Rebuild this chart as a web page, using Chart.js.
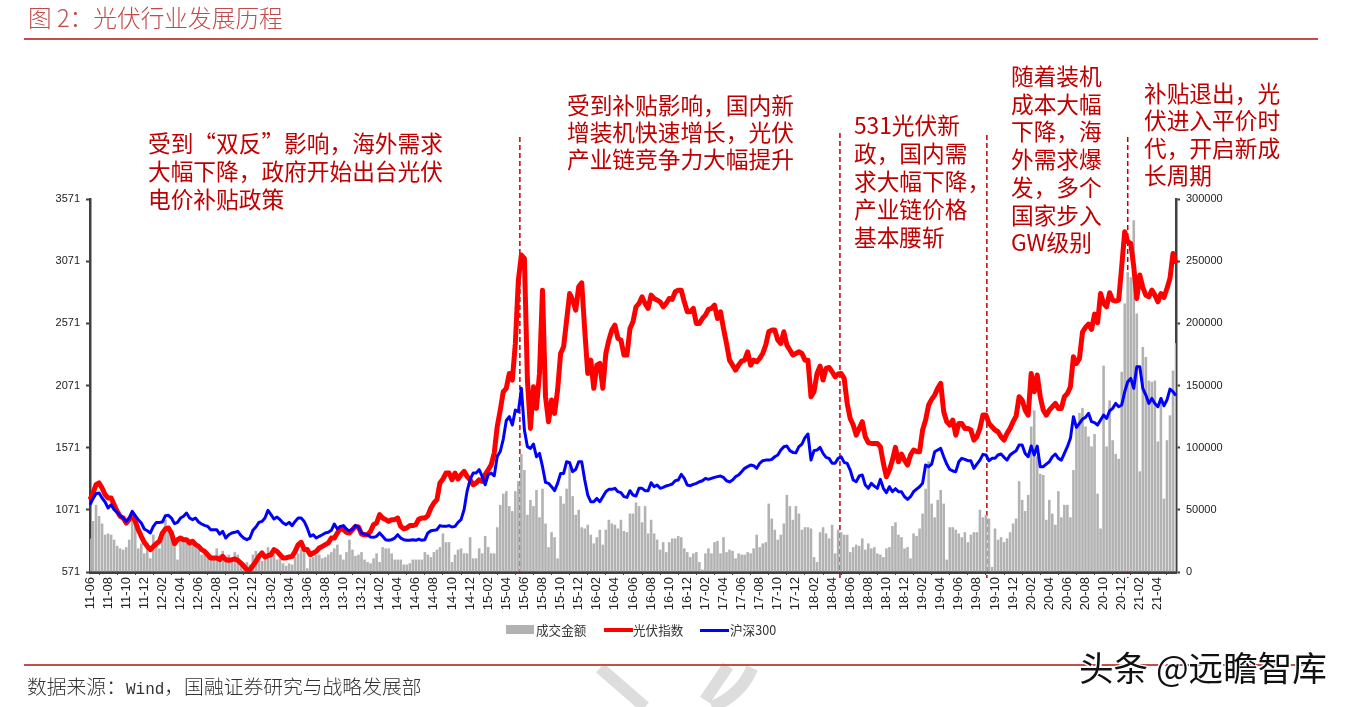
<!DOCTYPE html>
<html lang="zh">
<head>
<meta charset="utf-8">
<title>光伏行业发展历程</title>
<script src="https://cdn.jsdelivr.net/npm/chart.js@4/dist/chart.umd.min.js"></script>
<style>
  html, body { margin: 0; padding: 0; background: #fff; }
  body { position: relative; width: 1347px; height: 707px; overflow: hidden;
         font-family: "Noto Sans CJK SC", "Liberation Sans", sans-serif; }
  canvas { position: absolute; left: 0; top: 0; }
  .rule { position: absolute; left: 24px; width: 1294px; height: 2px; background: #C0504D; }
  .title { position: absolute; left: 28px; top: -1px; font-size: 23.7px; line-height: 36px; color: #C24A4A; font-weight: 300; white-space: pre; }
  .source { position: absolute; left: 27px; top: 672px; font-size: 19.8px; line-height: 28px; color: #333; font-weight: 300; white-space: pre; }
  .source span { font-family: "Liberation Mono", monospace; font-size: 16px; }
  .note { position: absolute; color: #C00000; font-size: 22.7px; white-space: pre; }
  .legend { position: absolute; left: 0; top: 621px; width: 1347px; height: 18px; font-size: 12.6px; line-height: 18px; color: #333; }
  .legend i { position: absolute; display: block; }
  .legend span { position: absolute; top: 0; }
  .mark { position: absolute; left: 1079px; top: 645px; font-size: 34.6px; line-height: 42px; color: #111; white-space: pre;
          text-shadow: 2px 2px 0 #fff, -1px -1px 0 #fff, 1px -1px 0 #fff, -1px 1px 0 #fff; }
  .seal { position: absolute; left: 0; top: 0; }
</style>
</head>
<body>
<svg class="seal" width="1347" height="707">
  <path d="M600 668 L645 707 M752 668 Q742 694 712 707 M728 666 L705 700" stroke="#DDDDDD" stroke-width="12" fill="none"/>
</svg>
<canvas id="chart" width="1347" height="707"></canvas>
<div class="rule" style="top:38px"></div>
<div class="rule" style="top:664px"></div>
<div class="title">图 2：光伏行业发展历程</div>
<div class="note" style="left:148px;top:129px;line-height:28px">受到“双反”影响，海外需求
大幅下降，政府开始出台光伏
电价补贴政策</div>
<div class="note" style="left:567px;top:91px;line-height:27.2px">受到补贴影响，国内新
增装机快速增长，光伏
产业链竞争力大幅提升</div>
<div class="note" style="left:854px;top:111px;line-height:28px">531光伏新
政，国内需
求大幅下降，
产业链价格
基本腰斩</div>
<div class="note" style="left:1011px;top:62px;line-height:27.7px">随着装机
成本大幅
下降，海
外需求爆
发，多个
国家步入
GW级别</div>
<div class="note" style="left:1144px;top:79px;line-height:27.4px">补贴退出，光
伏进入平价时
代，开启新成
长周期</div>
<div class="legend">
  <i style="left:506px;top:4px;width:28px;height:9px;background:#B2B2B2"></i><span style="left:536px">成交金额</span>
  <i style="left:604px;top:7px;width:29px;height:4px;background:#FF0000"></i><span style="left:633px">光伏指数</span>
  <i style="left:700px;top:8px;width:29px;height:3px;background:#0000FF"></i><span style="left:730px">沪深300</span>
</div>
<div class="source">数据来源：<span>Wind</span>，国融证券研究与战略发展部</div>
<div class="mark">头条 @远瞻智库</div>

<script>
// tick labels, one every 6 data points
const tickLabels = [
  '11-06','11-08','11-10','11-12','12-02','12-04','12-06','12-08','12-10','12-12',
  '13-02','13-04','13-06','13-08','13-10','13-12','14-02','14-04','14-06','14-08',
  '14-10','14-12','15-02','15-04','15-06','15-08','15-10','15-12','16-02','16-04',
  '16-06','16-08','16-10','16-12','17-02','17-04','17-06','17-08','17-10','17-12',
  '18-02','18-04','18-06','18-08','18-10','18-12','19-02','19-04','19-06','19-08',
  '19-10','19-12','20-02','20-04','20-06','20-08','20-10','20-12','21-02','21-04',
];

const leftTicks = [571, 1071, 1571, 2071, 2571, 3071, 3571];

// 光伏指数 (left axis)
const pvIndex = [
  1153,1206,1273,1287,1246,1193,1166,1166,1112,1059,1019,1005,965,992,1032,978,911,858,810,777,
  751,777,799,818,885,917,925,885,799,831,844,831,831,804,818,791,777,751,737,710,
  684,684,684,670,697,670,665,670,676,665,643,617,590,590,622,657,697,724,692,702,
  710,751,737,710,684,684,692,697,737,791,810,751,751,710,724,737,764,777,791,804,
  844,844,885,925,911,890,885,911,938,933,876,871,871,898,952,965,1032,1005,992,978,
  992,992,1005,938,919,925,944,944,952,997,1005,1005,1024,1086,1126,1153,1287,1319,1367,1367,
  1313,1367,1319,1354,1380,1340,1313,1273,1287,1313,1300,1354,1394,1434,1528,1742,1873,2021,2048,2168,
  2115,2409,2919,3120,3093,2115,1726,2061,1887,2168,2838,1981,1780,1954,1847,2034,2329,2383,2597,2811,
  2758,2677,2865,2897,2517,2168,2275,2048,2235,2249,2048,2329,2436,2517,2557,2450,2436,2316,2316,2530,
  2584,2704,2731,2785,2731,2691,2798,2771,2758,2744,2704,2731,2771,2763,2825,2838,2838,2744,2664,2664,
  2691,2570,2570,2610,2637,2683,2691,2718,2610,2664,2530,2409,2275,2235,2195,2235,2267,2275,2342,2235,
  2275,2262,2289,2329,2396,2503,2517,2517,2436,2409,2503,2396,2356,2316,2329,2342,2329,2275,2275,1981,
  2021,2168,2227,2115,2208,2216,2182,2141,2163,2168,2128,1927,1806,1753,1672,1726,1780,1659,1611,1605,
  1605,1605,1579,1445,1337,1391,1471,1573,1458,1520,1471,1431,1512,1552,1541,1538,1713,1793,1914,1959,
  1994,2048,2088,1860,1780,1753,1793,1672,1766,1766,1726,1726,1713,1632,1659,1726,1833,1833,1766,1739,
  1713,1699,1659,1632,1686,1726,1780,1825,1981,1954,1873,1833,2168,2021,2155,1981,1873,1833,1873,1900,
  1927,1887,1887,1981,2007,2061,2302,2249,2289,2500,2538,2565,2522,2645,2576,2811,2731,2704,2817,2758,
  2750,2758,3026,3307,3227,3213,3026,2771,2959,2860,2798,2784,2838,2798,2744,2811,2779,2851,2932,3133,
  3053,
];

// 沪深300 (left axis)
const hs300 = [
  1112,1161,1201,1206,1166,1134,1086,1112,1072,1051,1024,1005,978,1005,1059,1024,992,965,917,903,
  885,938,970,970,973,1024,1027,1005,960,970,1005,1019,1045,1005,992,1005,973,957,946,938,
  911,911,911,876,898,844,871,885,890,898,866,844,831,844,906,933,970,978,1005,1067,
  1032,997,1013,992,965,952,970,944,978,1005,1005,978,925,858,871,844,858,871,885,890,
  906,957,917,938,944,917,901,917,944,933,885,876,871,852,850,858,885,858,831,826,
  831,844,871,844,831,826,826,831,826,836,826,831,885,903,906,911,944,938,938,944,
  933,938,970,992,1072,1220,1313,1367,1367,1394,1340,1273,1354,1367,1345,1501,1540,1640,1790,1820,
  1753,1873,1860,2048,1713,1579,1565,1600,1498,1525,1418,1292,1284,1257,1225,1284,1364,1364,1458,1450,
  1378,1396,1458,1458,1311,1190,1136,1136,1163,1136,1177,1217,1236,1236,1244,1217,1209,1177,1171,1225,
  1190,1182,1244,1244,1225,1225,1289,1257,1270,1244,1252,1263,1270,1279,1305,1311,1356,1324,1270,1265,
  1276,1284,1297,1305,1324,1316,1324,1332,1338,1343,1332,1305,1295,1311,1338,1351,1378,1405,1418,1431,
  1426,1405,1445,1466,1471,1471,1477,1498,1512,1552,1579,1584,1547,1533,1530,1579,1600,1651,1681,1471,
  1547,1552,1573,1525,1493,1485,1445,1445,1485,1498,1453,1445,1391,1311,1297,1343,1351,1270,1244,1284,
  1262,1244,1316,1244,1209,1257,1217,1241,1217,1217,1177,1155,1177,1217,1238,1257,1284,1431,1418,1439,
  1538,1552,1565,1498,1439,1396,1383,1378,1458,1485,1477,1466,1466,1404,1439,1471,1517,1512,1466,1485,
  1485,1512,1520,1493,1471,1512,1530,1546,1592,1592,1525,1498,1584,1512,1584,1418,1418,1439,1458,1498,
  1520,1485,1471,1525,1579,1646,1820,1734,1766,1801,1815,1847,1780,1772,1753,1793,1833,1806,1868,1887,
  1927,1900,1914,2021,2101,2128,2048,2222,2222,2048,1994,1927,1967,1927,1900,1967,1908,1954,2042,2021,
  1989,
];

// 成交金额 (right axis)
const turnover = [
  27000,41000,54000,45000,39000,30000,31000,30000,26000,21000,19000,18000,20000,26000,41000,38000,19000,23000,15000,24000,
  11000,30000,25000,19000,28000,42000,34000,31000,24000,10000,26000,28000,24000,26000,24000,20000,19000,14000,18000,14000,
  13000,11000,19000,14000,17000,12000,14000,11000,16000,14000,8000,7000,8000,6000,14000,17000,15000,9000,12000,20000,
  17000,14000,10000,11000,7000,5000,7000,6000,12000,15000,18000,16000,3000,11000,12000,14000,14000,11000,12000,14000,
  16000,19000,22000,14000,10000,16000,26000,18000,13000,14000,16000,10000,8000,7000,11000,15000,8000,20000,19000,19000,
  15000,10000,10000,10000,6000,6000,7000,10000,10000,10000,10000,16000,14000,12000,16000,18000,20000,31000,24000,24000,
  8000,14000,18000,19000,15000,15000,28000,11000,11000,19000,15000,29000,20000,15000,15000,36000,54000,63000,65000,53000,
  49000,65000,73000,95000,82000,46000,58000,53000,66000,44000,67000,39000,20000,32000,28000,11000,61000,55000,67000,85000,
  61000,46000,50000,36000,35000,38000,30000,23000,28000,34000,22000,34000,42000,39000,38000,35000,42000,33000,32000,47000,
  47000,56000,53000,40000,53000,31000,42000,31000,26000,18000,24000,16000,24000,27000,27000,29000,28000,19000,16000,12000,
  15000,16000,8000,2000,15000,19000,15000,24000,25000,15000,28000,16000,18000,17000,11000,15000,14000,14000,16000,15000,
  19000,30000,20000,23000,24000,55000,43000,34000,26000,30000,39000,62000,53000,42000,53000,47000,34000,36000,36000,35000,
  12000,8000,32000,36000,31000,27000,38000,15000,34000,32000,30000,30000,16000,20000,22000,21000,27000,18000,23000,19000,
  20000,15000,14000,12000,19000,20000,37000,40000,30000,28000,19000,20000,11000,31000,29000,35000,47000,67000,89000,55000,
  44000,58000,66000,55000,10000,36000,36000,34000,31000,28000,32000,24000,30000,32000,32000,50000,44000,46000,43000,4000,
  35000,26000,28000,24000,27000,32000,39000,43000,73000,58000,49000,62000,117000,130000,93000,79000,78000,42000,58000,47000,
  38000,65000,44000,54000,54000,44000,82000,117000,128000,132000,117000,109000,101000,111000,63000,35000,166000,101000,138000,106000,
  95000,91000,161000,216000,241000,237000,283000,208000,81000,181000,173000,154000,153000,154000,105000,140000,59000,106000,126000,162000,
  184000,
];

// positions on the time axis of the four dashed markers
const markerPoints = [142.5, 248.6, 297.3, 344];
const markerTops = [137, 133, 135, 137];

const categories = pvIndex.map((v, i) => tickLabels[Math.min(Math.floor(i / 6), tickLabels.length - 1)]);

const AXIS_COLOR = '#404040';
const TICK_FONT = { family: '"Liberation Sans", sans-serif', size: 11 };

const markersPlugin = {
  id: 'markers',
  beforeDatasetsDraw(chart) {
    const { ctx, scales } = chart;
    ctx.save();
    ctx.strokeStyle = '#C00000';
    ctx.lineWidth = 1.5;
    ctx.setLineDash([5, 3]);
    markerPoints.forEach((p, i) => {
      const x = scales.x.getPixelForValue(p);
      ctx.beginPath();
      ctx.moveTo(x, markerTops[i]);
      ctx.lineTo(x, 578);
      ctx.stroke();
    });
    ctx.restore();
  },
};

new Chart(document.getElementById('chart'), {
  type: 'bar',
  plugins: [markersPlugin],
  data: {
    labels: categories,
    datasets: [
      { type: 'line', label: '沪深300', data: hs300, yAxisID: 'y', order: 0,
        borderColor: '#0000FF', borderWidth: 3, pointRadius: 0, tension: 0, borderJoinStyle: 'round' },
      { type: 'line', label: '光伏指数', data: pvIndex, yAxisID: 'y', order: 1,
        borderColor: '#FF0000', borderWidth: 5, pointRadius: 0, tension: 0, borderJoinStyle: 'round' },
      { type: 'bar', label: '成交金额', data: turnover, yAxisID: 'y1', order: 2,
        backgroundColor: '#B2B2B2', barPercentage: 0.86, categoryPercentage: 1 },
    ],
  },
  options: {
    responsive: false,
    animation: false,
    layout: { padding: { top: 199, left: 0, right: 0, bottom: 0 } },
    plugins: { legend: { display: false }, tooltip: { enabled: false } },
    scales: {
      x: {
        offset: false,
        afterBuildTicks: (s) => { s.ticks = s.ticks.filter((t, i) => i % 6 === 0 && i < 360); },
        afterFit: (s) => { s.height = 135; },
        border: { color: AXIS_COLOR, width: 3 },
        grid: { drawOnChartArea: false, tickLength: 3, tickColor: AXIS_COLOR },
        ticks: { autoSkip: false, minRotation: 90, maxRotation: 90, padding: 2,
                 color: '#222', font: { family: TICK_FONT.family, size: 13 } },
      },
      y: {
        position: 'left',
        min: 571, max: 3571,
        afterBuildTicks: (s) => { s.ticks = leftTicks.map(v => ({ value: v })); },
        afterFit: (s) => { s.width = 90; },
        border: { color: AXIS_COLOR, width: 2.5 },
        grid: { drawOnChartArea: false, tickLength: 4, tickColor: AXIS_COLOR, tickWidth: 2 },
        ticks: { color: '#222', font: TICK_FONT, padding: 6, callback: v => String(v) },
      },
      y1: {
        position: 'right',
        min: 0, max: 300000,
        afterFit: (s) => { s.width = 171; },
        border: { color: AXIS_COLOR, width: 2.5 },
        grid: { drawOnChartArea: false, tickLength: 4, tickColor: AXIS_COLOR, tickWidth: 2 },
        ticks: { stepSize: 50000, color: '#222', font: TICK_FONT, padding: 6, callback: v => String(v) },
      },
    },
  },
});
</script>
</body>
</html>
